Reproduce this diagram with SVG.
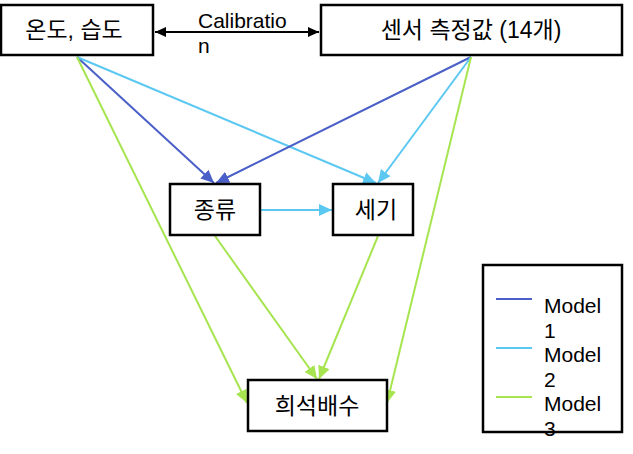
<svg xmlns="http://www.w3.org/2000/svg" width="633" height="454" viewBox="0 0 633 454">
<style>
.box{fill:#fff;stroke:#000;stroke-width:2.5}
.t{font-family:"Liberation Sans","Noto Sans CJK KR",sans-serif;font-size:21px;fill:#000}
.k{font-size:23px}
.c{text-anchor:middle}
.m1{stroke:#4a5fc8;stroke-width:2;fill:none}
.m2{stroke:#5bc8f2;stroke-width:2;fill:none}
.m3{stroke:#a6e54f;stroke-width:2;fill:none}
</style>
<defs>
<marker id="a1" markerUnits="userSpaceOnUse" markerWidth="14" markerHeight="12" refX="13" refY="6" orient="auto"><path d="M0,0L13,6L0,12z" fill="#4a5fc8"/></marker>
<marker id="a2" markerUnits="userSpaceOnUse" markerWidth="14" markerHeight="12" refX="13" refY="6" orient="auto"><path d="M0,0L13,6L0,12z" fill="#5bc8f2"/></marker>
<marker id="a3" markerUnits="userSpaceOnUse" markerWidth="14" markerHeight="12" refX="13" refY="6" orient="auto"><path d="M0,0L13,6L0,12z" fill="#a6e54f"/></marker>
<marker id="ak" markerUnits="userSpaceOnUse" markerWidth="12" markerHeight="10" refX="11" refY="5" orient="auto-start-reverse"><path d="M0,0L11,5L0,10z" fill="#000"/></marker>
</defs>
<g id="connectors">
<line x1="155" y1="32" x2="319" y2="32" stroke="#000" stroke-width="2" marker-start="url(#ak)" marker-end="url(#ak)"/>
<line class="m1" x1="77" y1="57" x2="214" y2="183" marker-end="url(#a1)"/>
<line class="m2" x1="77" y1="57" x2="376" y2="183" marker-end="url(#a2)"/>
<line class="m3" x1="77" y1="57" x2="247" y2="403" marker-end="url(#a3)"/>
<line class="m1" x1="471" y1="57" x2="216" y2="183" marker-end="url(#a1)"/>
<line class="m2" x1="471" y1="57" x2="378" y2="183" marker-end="url(#a2)"/>
<line class="m3" x1="471" y1="57" x2="387" y2="403" marker-end="url(#a3)"/>
<line class="m2" x1="261" y1="210" x2="332" y2="210" marker-end="url(#a2)"/>
<line class="m3" x1="215" y1="236" x2="317" y2="379" marker-end="url(#a3)"/>
<line class="m3" x1="378" y1="236" x2="319" y2="379" marker-end="url(#a3)"/>
</g>
<text class="t" x="198" y="28">Calibratio</text>
<text class="t" x="198" y="53">n</text>
<g id="n1"><rect class="box" x="1" y="5" width="152" height="50"/><text class="t k c" x="74" y="38">온도, 습도</text></g>
<g id="n2"><rect class="box" x="321" y="5" width="301" height="50"/><text class="t k c" x="471" y="38">센서 측정값 (14개)</text></g>
<g id="n3"><rect class="box" x="170" y="184" width="90" height="51"/><text class="t k c" x="215" y="218">종류</text></g>
<g id="n4"><rect class="box" x="333" y="184" width="80" height="51"/><text class="t k c" x="376" y="218">세기</text></g>
<g id="n5"><rect class="box" x="248" y="380" width="139" height="51"/><text class="t k c" x="317" y="414">희석배수</text></g>
<g id="legend">
<rect class="box" x="483" y="265" width="139" height="167"/>
<line class="m1" x1="496" y1="299" x2="532" y2="299" stroke-width="2.5"/>
<line class="m2" x1="496" y1="348" x2="532" y2="348" stroke-width="2.5"/>
<line class="m3" x1="496" y1="397" x2="532" y2="397" stroke-width="2.5"/>
<text class="t" x="544" y="313">Model</text><text class="t" x="544" y="338">1</text>
<text class="t" x="544" y="362">Model</text><text class="t" x="544" y="387">2</text>
<text class="t" x="544" y="411">Model</text><text class="t" x="544" y="436">3</text>
</g>
</svg>
